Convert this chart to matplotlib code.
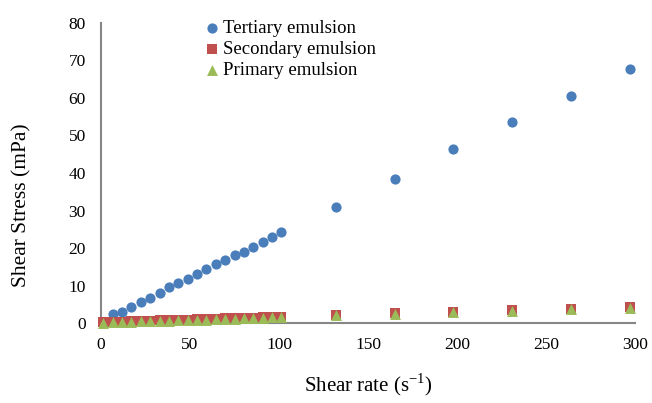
import matplotlib
matplotlib.use("Agg")
import matplotlib.pyplot as plt

# Data
tertiary_x = [6.6, 11.8, 17.1, 22.4, 27.6, 32.9, 38.2, 43.4, 48.7, 53.9, 59.2, 64.5, 69.7, 75.0,
              80.3, 85.5, 90.8, 96.1, 101.3, 132, 165, 198, 231, 264, 297]
tertiary_y = [2.5, 3.1, 4.3, 5.6, 6.8, 8.1, 9.7, 10.6, 11.9, 13.1, 14.4, 15.7, 16.8, 18.3,
              19.0, 20.4, 21.6, 23.0, 24.2, 30.9, 38.5, 46.3, 53.5, 60.6, 67.8]

low_x = [1.3, 6.6, 11.8, 17.1, 22.4, 27.6, 32.9, 38.2, 43.4, 48.7, 53.9, 59.2, 64.5, 69.7, 75.0,
         80.3, 85.5, 90.8, 96.1, 101.3, 132, 165, 198, 231, 264, 297]
secondary_y = [0.3, 0.4, 0.45, 0.5, 0.6, 0.7, 0.75, 0.8, 0.9, 1.0, 1.05, 1.1, 1.2, 1.3, 1.35,
               1.4, 1.5, 1.6, 1.65, 1.7, 2.2, 2.7, 3.0, 3.5, 3.9, 4.4]
primary_y = [0.2, 0.3, 0.35, 0.4, 0.5, 0.6, 0.65, 0.7, 0.8, 0.9, 0.95, 1.0, 1.1, 1.2, 1.25,
             1.3, 1.4, 1.5, 1.55, 1.6, 2.1, 2.5, 2.9, 3.3, 3.7, 4.2]

x_ticks = [0, 50, 100, 150, 200, 250, 300]
y_ticks = [0, 10, 20, 30, 40, 50, 60, 70, 80]

plt.rcParams['font.family'] = ['Liberation Serif', 'DejaVu Serif']

W, H = 652, 403
fig = plt.figure(figsize=(W / 100, H / 100), dpi=100)
ax = fig.add_axes([101 / W, (H - 323.3) / H, (635 - 101) / W, (323.3 - 22.7) / H])

ax.scatter(tertiary_x, tertiary_y, s=54, marker='o', color='#4A7EBB', label='Tertiary emulsion',
           clip_on=False, zorder=3, linewidths=0)
ax.scatter(low_x, secondary_y, s=58, marker='s', color='#C0504D', label='Secondary emulsion',
           clip_on=False, zorder=4, linewidths=0)
ax.scatter(low_x, primary_y, s=62, marker='^', color='#9BBB59', label='Primary emulsion',
           clip_on=False, zorder=5, linewidths=0)

ax.set_xlim(0, 300)
ax.set_ylim(0, 80)
ax.set_xticks(x_ticks)
ax.set_yticks(y_ticks)
ax.tick_params(axis='both', length=0, labelsize=12.5, colors='black')
ax.tick_params(axis='x', pad=10)
ax.tick_params(axis='y', pad=11)

for s in ['top', 'right']:
    ax.spines[s].set_visible(False)
for s in ['left', 'bottom']:
    ax.spines[s].set_color('#868686')
    ax.spines[s].set_linewidth(1.5)

ax.set_xlabel('Shear rate (s$^{\\mathregular{-1}}$)', fontsize=15)
ax.xaxis.set_label_coords(0.5, (323.3 - 385) / (323.3 - 22.7), transform=ax.transAxes)
ax.xaxis.label.set_va('center')
ax.set_ylabel('Shear Stress (mPa)', fontsize=15.5)
ax.yaxis.set_label_coords((22 - 101) / (635 - 101), (323.3 - 205) / (323.3 - 22.7),
                          transform=ax.transAxes)
ax.yaxis.label.set_va('center')

leg = fig.legend(loc='upper left', bbox_to_anchor=(195 / W, 1 - 12 / H), frameon=False,
                 fontsize=13.5, handletextpad=0.1, labelspacing=0.22, borderaxespad=0,
                 handlelength=1.0, scatterpoints=1)

fig.savefig('out.png', dpi=100)
